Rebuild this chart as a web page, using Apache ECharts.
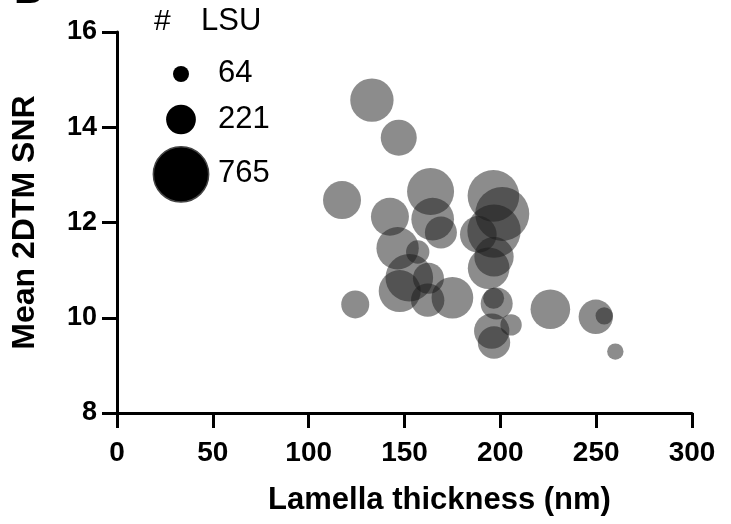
<!DOCTYPE html>
<html>
<head>
<meta charset="utf-8">
<script src="https://cdn.jsdelivr.net/npm/echarts@6/dist/echarts.min.js"></script>
<style>html,body{margin:0;padding:0;background:#fff;}#c{width:731px;height:524px;}</style>
</head>
<body>
<div id="c"></div>
<script>
// Lamella thickness (nm)
var thickness = [133.0, 147.0, 117.4, 163.6, 142.4, 164.7, 169.0, 146.4, 156.9, 152.5,
                 147.5, 162.5, 162.1, 175.0, 124.3, 198.1, 196.5, 195.5, 196.7, 205.6,
                 226.1, 249.8, 254.2, 260.0, 196.4, 201.0, 196.7, 188.5, 196.7, 193.9];
// Mean 2DTM SNR
var snr = [14.57, 13.78, 12.47, 12.65, 12.12, 12.07, 11.79, 11.46, 11.38, 10.84,
           10.56, 10.83, 10.37, 10.42, 10.28, 10.30, 10.41, 9.72, 9.48, 9.85,
           10.18, 10.02, 10.04, 9.29, 12.56, 12.18, 11.82, 11.75, 11.28, 11.04];
// # LSU
var lsu = [470, 324, 361, 552, 361, 455, 256, 448, 136, 567,
           441, 240, 278, 434, 196, 256, 110, 312, 262, 114,
           392, 295, 75, 67, 666, 729, 711, 336, 387, 434];
var xTicks = [0, 50, 100, 150, 200, 250, 300];
var yTicks = [8, 10, 12, 14, 16];
var legendValues = [64, 221, 765];

var data = thickness.map(function (t, i) { return [t, snr[i], lsu[i]]; });
function sizeOf(n) { return 2 * Math.sqrt(n); }

var FONT = 'Liberation Sans, Arial, sans-serif';
var chart = echarts.init(document.getElementById('c'), null, {renderer: 'canvas'});

var legendGraphics = [
  {type: 'text', left: 154, top: 7, style: {text: '#', font: '30px ' + FONT, fill: '#000'}},
  {type: 'text', left: 201, top: 6, style: {text: 'LSU', font: '31px ' + FONT, fill: '#000'}},
  {type: 'text', left: 14, top: -28, style: {text: 'B', font: 'bold 40px ' + FONT, fill: '#000'}}
];
var legY = [74, 119.5, 174.3];
legendValues.forEach(function (v, i) {
  var r = Math.sqrt(v);
  legendGraphics.push({type: 'circle', shape: {cx: 181, cy: legY[i], r: r},
    style: {fill: '#000', stroke: i === 2 ? '#444' : null, lineWidth: i === 2 ? 1.5 : 0}});
  legendGraphics.push({type: 'text', left: 218, top: legY[i] - 16,
    style: {text: String(v), font: '31px ' + FONT, fill: '#000'}});
});

chart.setOption({
  animation: false,
  backgroundColor: '#fff',
  grid: {left: 117, right: 39, top: 32, bottom: 111},
  graphic: legendGraphics,
  xAxis: {
    type: 'value', min: 0, max: 300, interval: 50,
    name: 'Lamella thickness (nm)', nameLocation: 'middle', nameGap: 72,
    nameTextStyle: {fontFamily: FONT, fontWeight: 'bold', fontSize: 31, color: '#000', padding: [0, 0, 0, 70]},
    axisLine: {show: true, lineStyle: {color: '#000', width: 3}},
    axisTick: {show: true, length: 15, lineStyle: {color: '#000', width: 3}},
    axisLabel: {fontFamily: FONT, fontWeight: 'bold', fontSize: 28, color: '#000', margin: 26,
      formatter: function (v) { return xTicks.indexOf(v) >= 0 ? String(v) : ''; }},
    splitLine: {show: false}
  },
  yAxis: {
    type: 'value', min: 8, max: 16, interval: 2,
    name: 'Mean 2DTM SNR', nameLocation: 'middle', nameGap: 76,
    nameTextStyle: {fontFamily: FONT, fontWeight: 'bold', fontSize: 32, color: '#000'},
    axisLine: {show: true, lineStyle: {color: '#000', width: 3}},
    axisTick: {show: true, length: 15, lineStyle: {color: '#000', width: 3}},
    axisLabel: {fontFamily: FONT, fontWeight: 'bold', fontSize: 27, color: '#000', margin: 20,
      formatter: function (v) { return yTicks.indexOf(v) >= 0 ? String(v) : ''; }},
    splitLine: {show: false}
  },
  series: [{
    type: 'scatter',
    data: data,
    symbol: 'circle',
    symbolSize: function (v) { return sizeOf(v[2]); },
    itemStyle: {color: '#1a1a1a', opacity: 0.5},
    emphasis: {disabled: true}
  }]
});
</script>
</body>
</html>
